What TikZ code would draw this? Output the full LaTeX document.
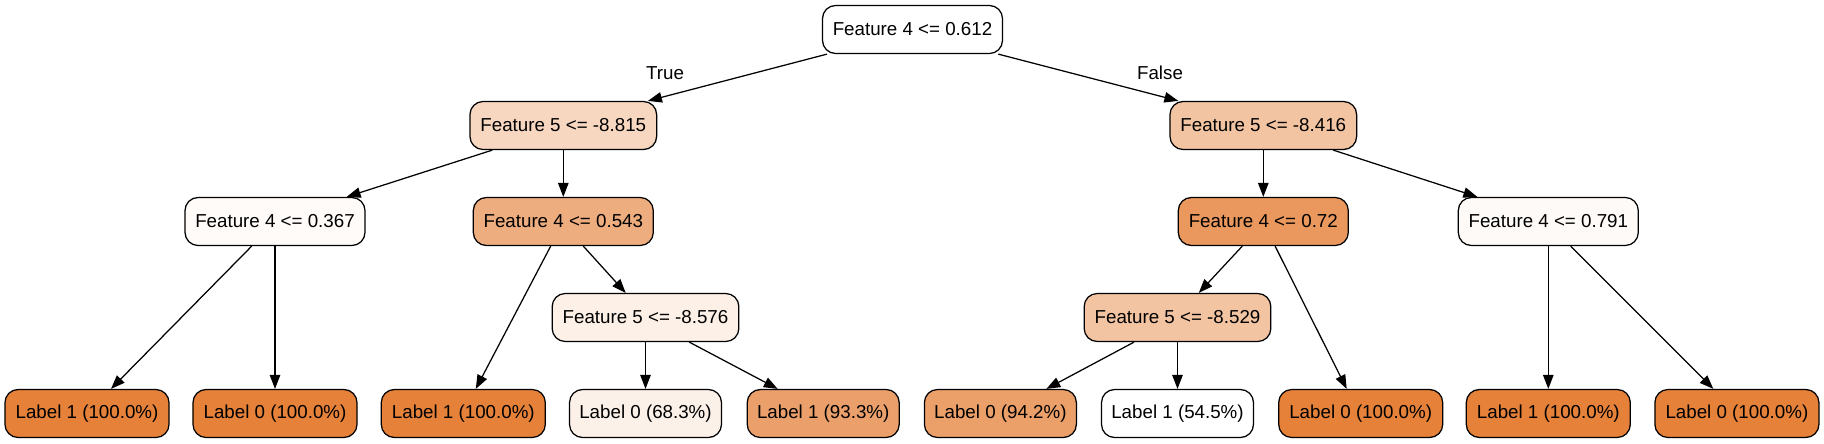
\documentclass[tikz,border=0pt]{standalone}
\usepackage{fontspec}
\setmainfont{Liberation Sans}
\usetikzlibrary{arrows.meta,calc}
\definecolor{sk}{HTML}{E58139}
\begin{document}
\begin{tikzpicture}[x=0.72pt,y=-0.72pt,
  box/.style={draw=black, line width=0.9pt, rounded corners=9.4pt,
    minimum height=34.56pt, inner sep=0pt,
    font=\fontsize{13.5}{16}\selectfont, text=black},
  wroot/.style={minimum width=129.6pt},
  wsplit/.style={minimum width=134.4pt},
  wnar/.style={minimum width=122.4pt},
  wfull/.style={minimum width=118.1pt},
  wpart/.style={minimum width=109.4pt},
  conn/.style={draw=black, line width=0.9pt, -{Triangle[length=10pt,width=7.5pt]}},
  lab/.style={font=\fontsize{13.5}{16}\selectfont, text=black}]
\useasboundingbox (0,0) rectangle (1824,443);

% level 0
\node[box,wroot,fill=white] (root) at (912.5,29.5) {Feature 4 <= 0.612};
% level 1
\node[box,wsplit,fill=sk!32] (n1) at (563.3,125.5) {Feature 5 <= -8.815};
\node[box,wsplit,fill=sk!47] (n2) at (1263.3,125.5) {Feature 5 <= -8.416};
% level 2
\node[box,wroot,fill=sk!3] (a) at (275,221.5) {Feature 4 <= 0.367};
\node[box,wroot,fill=sk!65] (b) at (563.3,221.5) {Feature 4 <= 0.543};
\node[box,wnar,fill=sk!82] (c) at (1263.3,221.5) {Feature 4 <= 0.72};
\node[box,wroot,fill=sk!4] (d) at (1548.3,221.5) {Feature 4 <= 0.791};
% level 3
\node[box,wsplit,fill=sk!12] (e) at (645.5,317.5) {Feature 5 <= -8.576};
\node[box,wsplit,fill=sk!47] (f) at (1177.5,317.5) {Feature 5 <= -8.529};
% leaves
\node[box,wfull,fill=sk] (l1) at (87,413.5) {Label 1 (100.0\%)};
\node[box,wfull,fill=sk] (l2) at (275,413.5) {Label 0 (100.0\%)};
\node[box,wfull,fill=sk] (l3) at (463.3,413.5) {Label 1 (100.0\%)};
\node[box,wpart,fill=sk!11] (l4) at (645.5,413.5) {Label 0 (68.3\%)};
\node[box,wpart,fill=sk!75] (l5) at (823.2,413.5) {Label 1 (93.3\%)};
\node[box,wpart,fill=sk!76] (l6) at (1000.4,413.5) {Label 0 (94.2\%)};
\node[box,wpart,fill=white] (l7) at (1177.5,413.5) {Label 1 (54.5\%)};
\node[box,wfull,fill=sk] (l8) at (1360.7,413.5) {Label 0 (100.0\%)};
\node[box,wfull,fill=sk] (l9) at (1548.3,413.5) {Label 1 (100.0\%)};
\node[box,wfull,fill=sk] (l10) at (1736.9,413.5) {Label 0 (100.0\%)};

% edge labels
\node[lab] (ltrue) at (665,73) {True};
\node[lab] (lfalse) at (1160,73) {False};

% connectors
\draw[conn] ($(root.south)+(-85.5,0)$) -- ($(n1.north)+(84.7,0)$);
\draw[conn] ($(root.south)+(85.8,0)$) -- ($(n2.north)+(-85,0)$);
\draw[conn] ($(n1.south)+(-71,0)$) -- ($(a.north)+(71.7,0)$);
\draw[conn] (n1.south) -- (b.north);
\draw[conn] (n2.south) -- (c.north);
\draw[conn] ($(n2.south)+(70,0)$) -- ($(d.north)+(-71,0)$);
\draw[conn] ($(a.south)+(-23.3,0)$) -- ($(l1.north)+(24,0)$);
\draw[conn] (a.south) -- (l2.north);
\draw[conn] ($(b.south)+(-12.6,0)$) -- ($(l3.north)+(12.5,0)$);
\draw[conn] ($(b.south)+(20,0)$) -- ($(e.north)+(-19.8,0)$);
\draw[conn] (e.south) -- (l4.north);
\draw[conn] ($(e.south)+(43.8,0)$) -- ($(l5.north)+(-45.5,0)$);
\draw[conn] ($(c.south)+(-21,0)$) -- ($(f.north)+(21.3,0)$);
\draw[conn] ($(c.south)+(11.8,0)$) -- ($(l8.north)+(-14,0)$);
\draw[conn] ($(f.south)+(-43.5,0)$) -- ($(l6.north)+(46,0)$);
\draw[conn] (f.south) -- (l7.north);
\draw[conn] (d.south) -- (l9.north);
\draw[conn] ($(d.south)+(22.4,0)$) -- ($(l10.north)+(-23.6,0)$);
\end{tikzpicture}
\end{document}
